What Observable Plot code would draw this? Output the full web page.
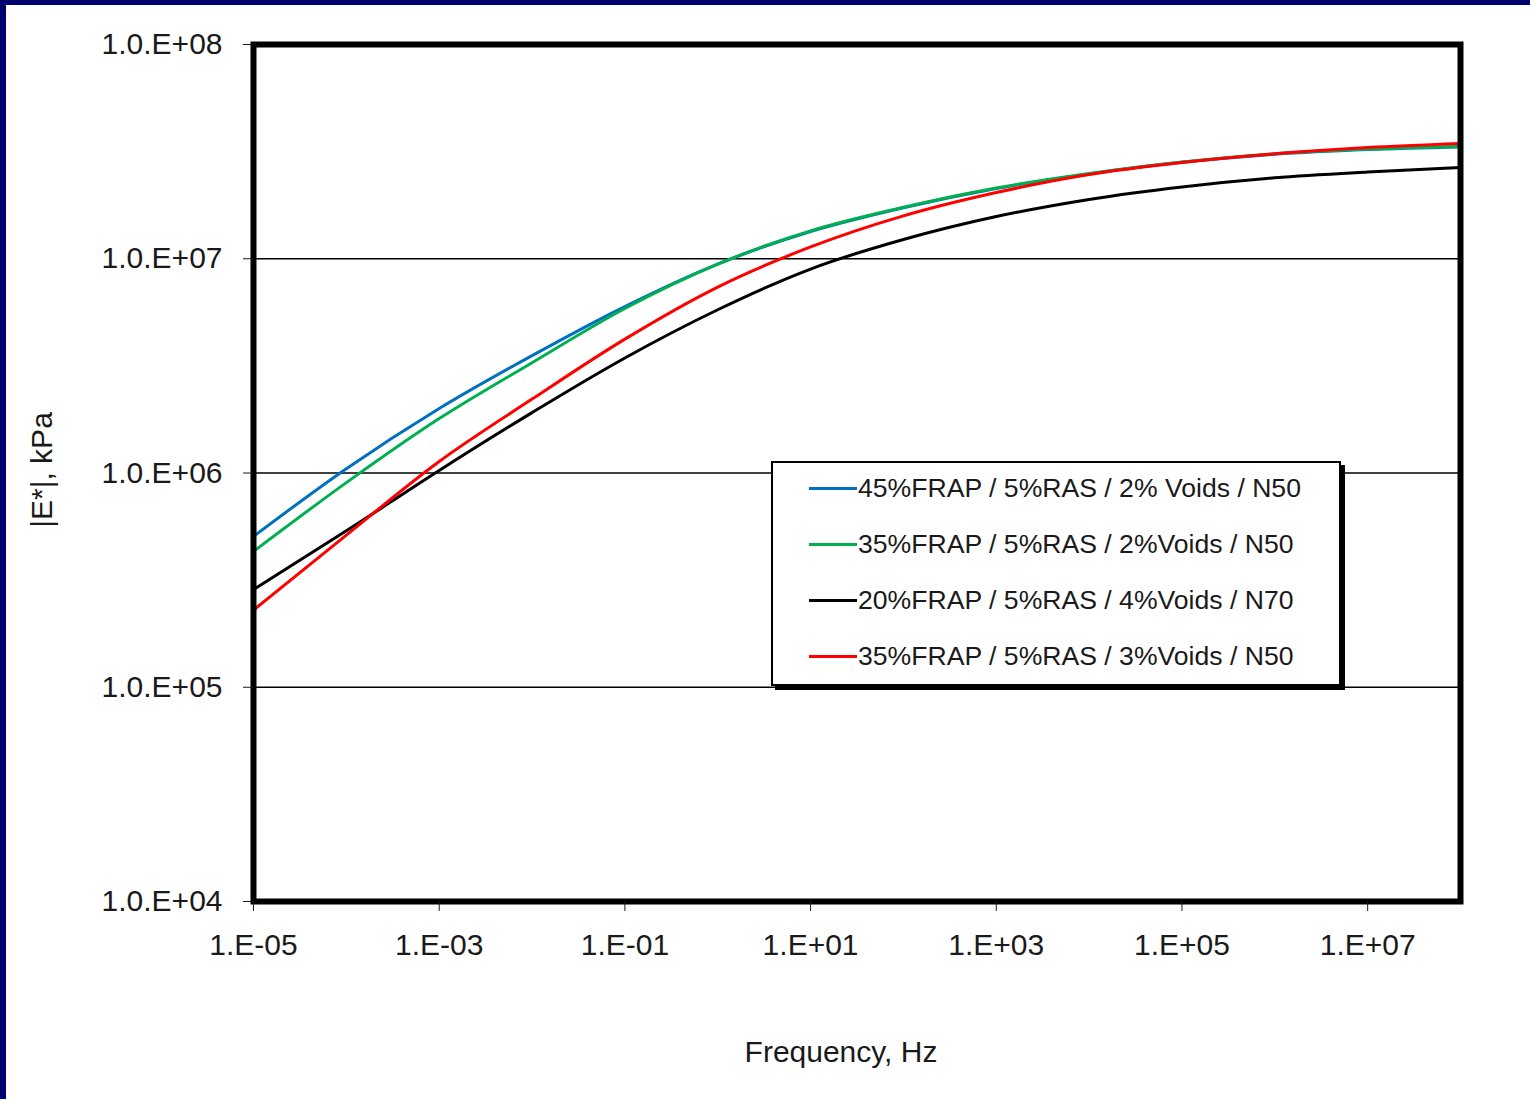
<!DOCTYPE html>
<html><head><meta charset="utf-8">
<script src="https://cdn.jsdelivr.net/npm/d3@7"></script>
<script src="https://cdn.jsdelivr.net/npm/@observablehq/plot@0.6"></script>
<style>
html,body{margin:0;padding:0;background:#fff;}
#wrap{position:relative;width:1530px;height:1099px;overflow:hidden;background:#fff;font-family:"Liberation Sans",Arial,sans-serif;color:#1a1a1a;}
#chart{position:absolute;left:0;top:0;}
.navyL{position:absolute;left:0;top:0;width:6px;height:1099px;background:#00006e;}
.navyT{position:absolute;left:0;top:0;width:1530px;height:5px;background:#00006e;}
#legend{position:absolute;left:771px;top:461px;width:570px;height:225px;border:2px solid #000;box-shadow:4px 4px 0 #000;background:#fff;box-sizing:border-box;}
.item{position:absolute;left:0;height:30px;width:100%;}
.swatch{position:absolute;left:36px;top:14px;width:48px;height:3px;}
.ltxt{position:absolute;left:85px;top:0;font-size:26.6px;line-height:30px;white-space:nowrap;}
.xtitle{position:absolute;left:0;width:1682px;top:1034px;text-align:center;font-size:30px;line-height:36px;}
.ytitle{position:absolute;left:42px;top:470px;font-size:30px;line-height:36px;white-space:nowrap;transform:translate(-50%,-50%) rotate(-90deg);}
</style>
</head><body>
<div id="wrap">
  <div id="chart"></div>
  <div class="navyL"></div><div class="navyT"></div>
  <div id="legend"></div>
  <div class="xtitle" id="xt"></div>
  <div class="ytitle" id="yt"></div>
</div>
<script>
// ---- data ----
const freq = [1e-5, 1e-4, 1e-3, 1e-2, 1e-1, 1, 1e1, 1e2, 1e3, 1e4, 1e5, 1e6, 1e7, 1e8];
const seriesNames = [
  "45%FRAP / 5%RAS / 2% Voids / N50",
  "35%FRAP / 5%RAS / 2%Voids / N50",
  "20%FRAP / 5%RAS / 4%Voids / N70",
  "35%FRAP / 5%RAS / 3%Voids / N50"
];
const seriesColors = ["#0070C0", "#00B050", "#000000", "#FF0000"];
const frap45v2 = [5.058e5, 1.047e6, 2.0e6, 3.532e6, 5.984e6, 9.44e6, 1.34e7, 1.73e7, 2.128e7, 2.489e7, 2.818e7, 3.076e7, 3.236e7, 3.327e7];
const frap35v2 = [4.305e5, 9.016e5, 1.795e6, 3.273e6, 5.861e6, 9.44e6, 1.35e7, 1.738e7, 2.138e7, 2.5e7, 2.831e7, 3.09e7, 3.251e7, 3.342e7];
const frap20v4 = [2.858e5, 5.37e5, 1.028e6, 1.914e6, 3.443e6, 5.781e6, 8.954e6, 1.230e7, 1.574e7, 1.892e7, 2.163e7, 2.388e7, 2.541e7, 2.667e7];
const frap35v3 = [2.291e5, 5.129e5, 1.132e6, 2.213e6, 4.217e6, 7.379e6, 1.135e7, 1.585e7, 2.037e7, 2.472e7, 2.812e7, 3.09e7, 3.304e7, 3.451e7];
const seriesValues = [frap45v2, frap35v2, frap20v4, frap35v3];
const xTicks = [1e-5, 1e-3, 1e-1, 1e1, 1e3, 1e5, 1e7];
const xTickLabels = ["1.E-05", "1.E-03", "1.E-01", "1.E+01", "1.E+03", "1.E+05", "1.E+07"];
const yTicks = [1e4, 1e5, 1e6, 1e7, 1e8];
const yTickLabels = ["1.0.E+04", "1.0.E+05", "1.0.E+06", "1.0.E+07", "1.0.E+08"];
const gridValues = [1e5, 1e6, 1e7];
const xTitle = "Frequency, Hz";
const yTitle = "|E*|, kPa";

// ---- chart ----
const lineMarks = seriesValues.map((vals, s) =>
  Plot.line(freq.map((f, i) => ({f, E: vals[i]})), {
    x: "f", y: "E", stroke: seriesColors[s], strokeWidth: 3, curve: "monotone-x"
  })
);

const chart = Plot.plot({
  width: 1530, height: 1099,
  marginLeft: 253, marginRight: 70, marginTop: 44, marginBottom: 198,
  x: {type: "log", domain: [1e-5, 1e8]},
  y: {type: "log", domain: [1e4, 1e8]},
  style: {fontFamily: '"Liberation Sans", Arial, sans-serif', fontSize: "30px", color: "#1a1a1a", background: "transparent"},
  marks: [
    Plot.ruleY(gridValues, {stroke: "#000", strokeWidth: 1.3}),
    ...lineMarks,
    Plot.frame({stroke: "#000", strokeWidth: 6}),
    Plot.axisY(yTicks, {tickSize: 10, tickPadding: 21, tickFormat: d => yTickLabels[yTicks.indexOf(d)], label: null, strokeWidth: 1}),
    Plot.axisX(xTicks, {tickSize: 10, tickPadding: 22, tickFormat: d => xTickLabels[xTicks.indexOf(d)], label: null, strokeWidth: 1})
  ]
});
document.getElementById("chart").appendChild(chart);

// ---- legend ----
const legend = document.getElementById("legend");
seriesNames.forEach((name, i) => {
  const item = document.createElement("div");
  item.className = "item";
  item.style.top = (10 + i * 56) + "px";
  const sw = document.createElement("div");
  sw.className = "swatch";
  sw.style.background = seriesColors[i];
  const t = document.createElement("div");
  t.className = "ltxt";
  t.textContent = name;
  item.appendChild(sw); item.appendChild(t);
  legend.appendChild(item);
});
document.getElementById("xt").textContent = xTitle;
document.getElementById("yt").textContent = yTitle;
</script>
</body></html>
